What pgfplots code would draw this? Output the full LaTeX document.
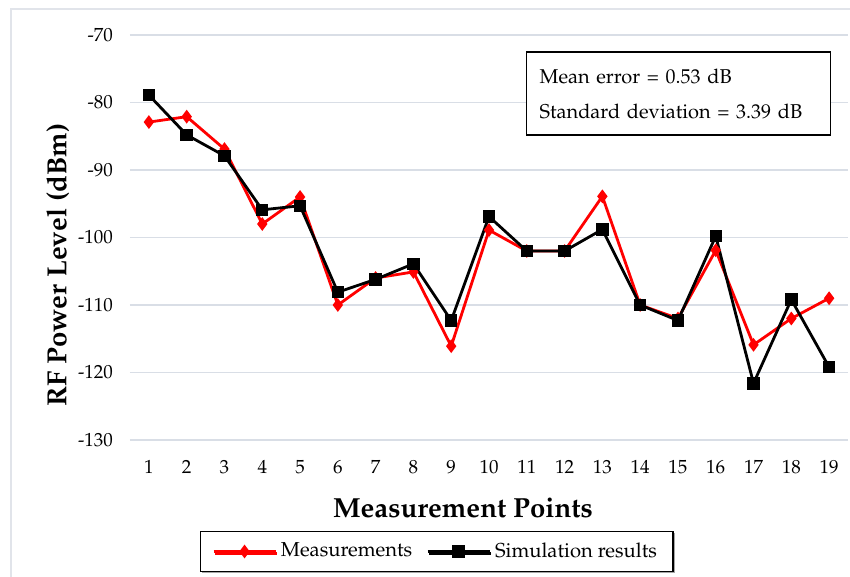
\documentclass[border=0pt]{standalone}
\usepackage[T1]{fontenc}
\usepackage{mathpazo}
\usepackage{pgfplots}
\pgfplotsset{compat=1.18}
\usetikzlibrary{shadows}
\definecolor{gridc}{RGB}{217,222,230}
\definecolor{framec}{RGB}{225,228,234}
\begin{document}
\begin{tikzpicture}
\useasboundingbox (-65pt,-68.5pt) rectangle (360pt,220pt);
\fill[white] (-65pt,-68.5pt) rectangle (360pt,220pt);
\draw[framec, line width=1pt] (-59.5pt,-68.5pt) -- (-59.5pt,215.5pt) -- (360pt,215.5pt);
\begin{axis}[
  at={(0pt,0pt)}, anchor=south west,
  scale only axis,
  width=359pt, height=202.5pt,
  xmin=0.5, xmax=19.5,
  ymin=-130, ymax=-70,
  xtick={1,...,19},
  ytick={-130,-120,...,-70},
  axis line style={draw=none},
  major tick length=0pt,
  ymajorgrids,
  grid style={gridc, line width=0.75pt},
  /pgf/number format/assume math mode=true,
  tick label style={font=\fontsize{9.5}{11}\selectfont},
  yticklabel style={xshift=-5pt},
  xticklabel style={yshift=-6.5pt},
  xlabel={\textbf{Measurement Points}},
  xlabel style={font=\fontsize{13.8}{16}\selectfont, at={(axis description cs:0.4638,0)}, anchor=center, yshift=-34pt},
  ylabel={\textbf{RF Power Level (dBm)}},
  ylabel style={font=\fontsize{13.8}{16}\selectfont, at={(axis description cs:0,0.432)}, anchor=center, yshift=36pt},
  legend columns=2,
  legend style={at={(axis description cs:0.4269,0)}, anchor=center, yshift=-55.75pt,
    draw=black, line width=0.6pt, fill=white,
    drop shadow={shadow xshift=0.8pt, shadow yshift=-0.8pt, fill=gray!70, opacity=1},
    font=\fontsize{10.1}{12}\selectfont,
    inner xsep=6pt, inner ysep=3.5pt,
    /tikz/every even column/.append style={column sep=5pt}},
  legend image code/.code={\draw[mark repeat=2,mark phase=2,#1] plot coordinates {(0pt,0pt)(15.5pt,0pt)(31pt,0pt)};},
]
\addplot[red, line width=1.4pt, mark=diamond*, mark size=2.3pt, mark options={solid, fill=red}] coordinates {
(1,-82.9) (2,-82.1) (3,-86.9) (4,-98.0) (5,-94.0) (6,-110.0) (7,-106.0) (8,-105.1) (9,-116.1) (10,-98.9)
(11,-102.0) (12,-102.0) (13,-93.9) (14,-110.0) (15,-112.0) (16,-101.9) (17,-115.9) (18,-112.0) (19,-109.0)};
\addlegendentry{Measurements}
\addplot[black, line width=1.4pt, mark=square*, mark size=2.4pt, mark options={solid, fill=black}] coordinates {
(1,-78.9) (2,-84.8) (3,-87.9) (4,-95.9) (5,-95.3) (6,-108.1) (7,-106.2) (8,-103.9) (9,-112.3) (10,-96.9)
(11,-102.0) (12,-102.0) (13,-98.8) (14,-110.0) (15,-112.3) (16,-99.8) (17,-121.6) (18,-109.2) (19,-119.2)};
\addlegendentry{Simulation results}
\end{axis}
\node[draw=black, line width=0.6pt, fill=white, text width=139pt, minimum height=41.5pt, align=left, inner xsep=6.5pt,
  font=\fontsize{10}{17.5}\selectfont, anchor=west] at (198pt,173.25pt)
  {Mean error = 0.53 dB\\Standard deviation = 3.39 dB};
\end{tikzpicture}
\end{document}
